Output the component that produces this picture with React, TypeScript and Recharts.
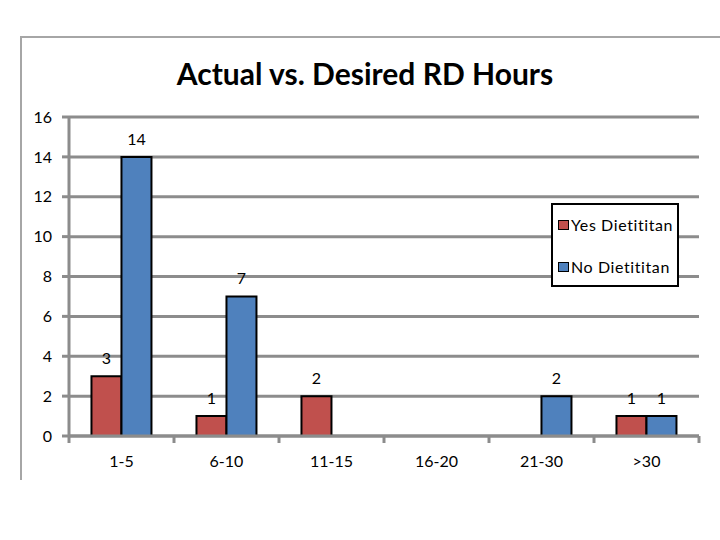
import React from 'react';
import { BarChart, Bar, XAxis, YAxis, CartesianGrid, Legend, LabelList } from 'recharts';

const categories = ['1-5', '6-10', '11-15', '16-20', '21-30', '>30'];
const yesDietitian = [3, 1, 2, 0, 0, 1];
const noDietitian = [14, 7, 0, 0, 2, 1];
const yTicks = [0, 2, 4, 6, 8, 10, 12, 14, 16];
const seriesNames = ['Yes Dietititan', 'No Dietititan'];
const seriesColors = ['#C0504D', '#4F81BD'];

const data = categories.map((c, i) => ({ category: c, yes: yesDietitian[i], no: noDietitian[i] }));

const FONT = 'Lato, "Open Sans", sans-serif';
const GRID = '#8c8c8c';

const XTick = (props: any) => {
  const { x, y, payload, index } = props;
  const half = payload && typeof payload.offset === 'number' && payload.offset > 0 ? payload.offset : 52.5;
  const isLast = index === categories.length - 1;
  return (
    <g>
      <line x1={x - half} x2={x - half} y1={y} y2={y + 7} stroke={GRID} strokeWidth={3} />
      {isLast && <line x1={x + half} x2={x + half} y1={y} y2={y + 7} stroke={GRID} strokeWidth={3} />}
      <text x={x} y={y + 31} textAnchor="middle" fontSize={16} fontFamily={FONT} fill="#000">
        {payload.value}
      </text>
    </g>
  );
};

const LegendBox = (props: any) => {
  const payload = [...(props.payload || [])].sort(
    (a: any, b: any) => seriesNames.indexOf(a.value) - seriesNames.indexOf(b.value)
  );
  return (
    <div
      style={{
        width: 124,
        height: 80,
        border: '2px solid #000',
        background: '#fff',
        fontFamily: FONT,
        fontSize: 16,
        letterSpacing: 0.6,
        position: 'relative',
      }}
    >
      {payload.map((p: any, i: number) => (
        <div
          key={p.value}
          style={{ position: 'absolute', left: 5, top: i === 0 ? 10 : 52, display: 'flex', alignItems: 'center', whiteSpace: 'nowrap' }}
        >
          <span style={{ display: 'inline-block', width: 9, height: 8, background: p.color, border: '1.5px solid #000', marginRight: 2 }} />
          <span>{p.value}</span>
        </div>
      ))}
    </div>
  );
};

const labelFormatter = (v: any) => (v === 0 ? '' : v);

export default function App() {
  return (
    <div style={{ position: 'absolute', left: 0, top: 0, width: 720, height: 540, background: '#fff' }}>
      <div
        style={{
          position: 'absolute',
          left: 20,
          top: 36,
          width: 710,
          height: 442,
          borderLeft: '2px solid #a6a6a6',
          borderTop: '2px solid #a6a6a6',
        }}
      />
      <div
        style={{
          position: 'absolute',
          left: 0,
          top: 55,
          width: 730,
          textAlign: 'center',
          fontFamily: FONT,
          fontWeight: 700,
          fontSize: 30,
          color: '#000',
        }}
      >
        Actual vs. Desired RD Hours
      </div>
      <div style={{ position: 'absolute', left: 0, top: 0 }}>
        <BarChart
          width={720}
          height={540}
          data={data}
          margin={{ top: 117, right: 21, bottom: 0, left: 0 }}
          barCategoryGap="21.4%"
          barGap={0}
        >
          <CartesianGrid vertical={false} stroke={GRID} strokeWidth={3} />
          <XAxis
            dataKey="category"
            height={104}
            axisLine={{ stroke: GRID, strokeWidth: 3 }}
            tickLine={false}
            tickSize={0}
            tickMargin={0}
            interval={0}
            tick={<XTick />}
          />
          <YAxis
            width={69}
            domain={[0, 16]}
            ticks={yTicks}
            interval={0}
            axisLine={{ stroke: GRID, strokeWidth: 3 }}
            tickLine={{ stroke: GRID, strokeWidth: 3 }}
            tickSize={7}
            tickMargin={10}
            tick={{ fill: '#000', fontSize: 16, fontFamily: FONT }}
          />
          <Legend
            layout="vertical"
            align="center"
            verticalAlign="middle"
            content={<LegendBox />}
            wrapperStyle={{ position: 'absolute', left: 551, top: 203, width: 128, height: 84 }}
          />
          <Bar dataKey="yes" name={seriesNames[0]} fill={seriesColors[0]} stroke="#000" strokeWidth={2} isAnimationActive={false}>
            <LabelList dataKey="yes" position="top" offset={12} formatter={labelFormatter} fill="#000" fontSize={16} fontFamily={FONT} />
          </Bar>
          <Bar dataKey="no" name={seriesNames[1]} fill={seriesColors[1]} stroke="#000" strokeWidth={2} isAnimationActive={false}>
            <LabelList dataKey="no" position="top" offset={12} formatter={labelFormatter} fill="#000" fontSize={16} fontFamily={FONT} />
          </Bar>
        </BarChart>
      </div>
    </div>
  );
}
